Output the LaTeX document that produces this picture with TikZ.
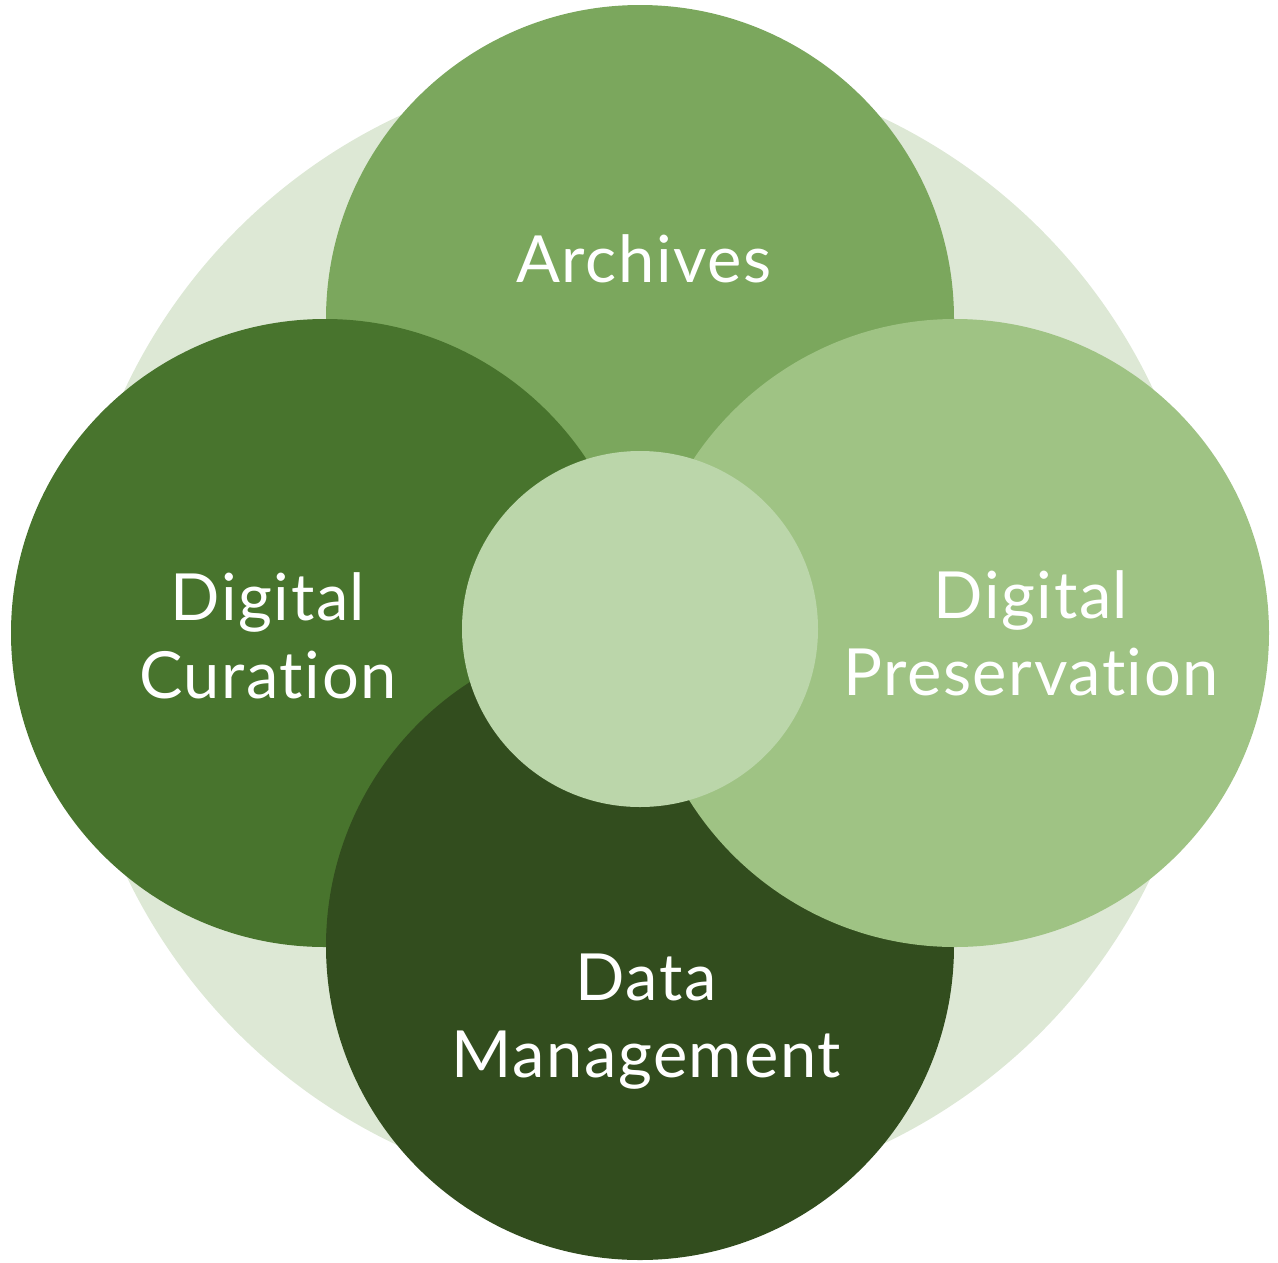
\documentclass[tikz,border=0pt]{standalone}
\usepackage{fontspec}
\setmainfont{Lato}[Ligatures={NoCommon}, LetterSpace=2.5]
\definecolor{bgc}{HTML}{DDE8D5}
\definecolor{arc}{HTML}{7BA75D}
\definecolor{cur}{HTML}{48742D}
\definecolor{dat}{HTML}{324D1E}
\definecolor{pre}{HTML}{9FC384}
\definecolor{cen}{HTML}{BBD6AA}
\tikzset{
  disc/.style={circle, draw=none, inner sep=0pt, minimum size=628pt},
  lbl/.style={text=white, font=\fontsize{65}{78}\selectfont, align=center, anchor=base},
}
\begin{document}
\begin{tikzpicture}[x=1pt,y=-1pt]
\useasboundingbox (0,0) rectangle (1278,1262);
\node[circle, fill=bgc, inner sep=0pt, minimum size=1136pt] (bg) at (639,631) {};
\node[disc, fill=arc] (archives) at (640,319) {};
\node[disc, fill=cur] (curation) at (325,633) {};
\node[disc, fill=dat] (data) at (640,946) {};
\node[disc, fill=pre] (preservation) at (955,633) {};
\node[circle, fill=cen, inner sep=0pt, minimum size=356pt] (center) at (640,629) {};
\node[lbl] (tarch) at (644,282) {Archives};
\node[lbl] (tcur1) at (268,620) {Digital};
\node[lbl] (tcur2) at (268,698) {Curation};
\node[lbl] (tpre1) at (1031,618) {Digital};
\node[lbl] (tpre2) at (1031,695) {Preservation};
\node[lbl] (tdat1) at (646,1000) {Data};
\node[lbl] (tdat2) at (646,1077) {Management};
\end{tikzpicture}
\end{document}
